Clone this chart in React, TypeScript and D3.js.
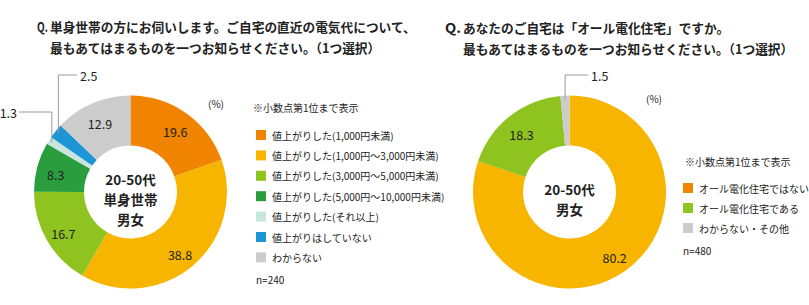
import React from "react";
import * as d3 from "d3";

// ---------- data ----------
const leftTitle = [
  "単身世帯の方にお伺いします。ご自宅の直近の電気代について、",
  "最もあてはまるものを一つお知らせください。（1つ選択）",
];
const leftCenter = ["20-50代", "単身世帯", "男女"];
const leftCategories = [
  "値上がりした(1,000円未満)",
  "値上がりした(1,000円～3,000円未満)",
  "値上がりした(3,000円～5,000円未満)",
  "値上がりした(5,000円～10,000円未満)",
  "値上がりした(それ以上)",
  "値上がりはしていない",
  "わからない",
];
const leftValues = [19.6, 38.8, 16.7, 8.3, 1.3, 2.5, 12.9];
const leftColors = ["#F08300", "#F7B500", "#8FC31F", "#2A9E3E", "#C8E6DF", "#1E96D5", "#CCCCCC"];
const leftN = "n=240";

const rightTitle = [
  "あなたのご自宅は「オール電化住宅」ですか。",
  "最もあてはまるものを一つお知らせください。（1つ選択）",
];
const rightCenter = ["20-50代", "男女"];
const rightCategories = ["オール電化住宅ではない", "オール電化住宅である", "わからない・その他"];
const rightValues = [80.2, 18.3, 1.5];
const rightSliceColors = ["#F7B500", "#8FC31F", "#CCCCCC"];
const rightLegendColors = ["#F08300", "#8FC31F", "#CCCCCC"];
const rightN = "n=480";

const note = "※小数点第1位まで表示";
const unit = "(%)";

const FONT = "'Noto Sans CJK JP', 'Noto Sans', sans-serif";

type Callout = { index: number; lx: number; ly: number; side: "left" | "right" };

function Donut(props: {
  cx: number;
  cy: number;
  values: number[];
  colors: string[];
  center: string[];
  callouts: Callout[];
}) {
  const { cx, cy, values, colors, center, callouts } = props;
  const rOuter = 96.5;
  const rInner = 46.5;
  const pie = d3.pie<number>().sort(null).value((d) => d);
  const arcs = pie(values);
  const arc = d3.arc<d3.PieArcDatum<number>>().innerRadius(rInner).outerRadius(rOuter);
  const labelArc = d3.arc<d3.PieArcDatum<number>>().innerRadius(rInner + 6).outerRadius(rOuter + 6);
  const calloutIdx = new Set(callouts.map((c) => c.index));
  return (
    <g>
      <g transform={`translate(${cx},${cy})`}>
        {arcs.map((a, i) => (
          <path key={i} d={arc(a) || ""} fill={colors[i]} />
        ))}
        {arcs.map((a, i) => {
          if (calloutIdx.has(i)) return null;
          const [x, y] = labelArc.centroid(a);
          return (
            <text
              key={"l" + i}
              x={x}
              y={y + 3}
              textAnchor="middle"
              dominantBaseline="central"
              fontSize={12.5}
              fill="#222"
              fontFamily={FONT}
            >
              {values[i].toFixed(1)}
            </text>
          );
        })}
        {center.map((t, i) => (
          <text
            key={"c" + i}
            x={0}
            y={7 + (i - (center.length - 1) / 2) * 20}
            textAnchor="middle"
            dominantBaseline="central"
            fontSize={13.5}
            fontWeight="bold"
            fill="#222"
            fontFamily={FONT}
          >
            {t}
          </text>
        ))}
      </g>
      {callouts.map((c, k) => {
        const a = arcs[c.index];
        const mid = (a.startAngle + a.endAngle) / 2;
        const r = 93;
        const px = cx + r * Math.sin(mid);
        const py = cy - r * Math.cos(mid);
        const lineEnd = c.side === "left" ? c.lx + 2 : c.lx - 3;
        return (
          <g key={"co" + k}>
            <polyline
              points={`${px},${py} ${px},${c.ly} ${lineEnd},${c.ly}`}
              fill="none"
              stroke="#9a9a9a"
              strokeWidth={1}
            />
            <text
              x={c.lx}
              y={c.ly}
              textAnchor={c.side === "left" ? "end" : "start"}
              dominantBaseline="central"
              fontSize={12.5}
              fill="#222"
              fontFamily={FONT}
            >
              {values[c.index].toFixed(1)}
            </text>
          </g>
        );
      })}
    </g>
  );
}

function Legend(props: { x: number; y: number; step: number; labels: string[]; colors: string[]; n: string }) {
  const { x, y, step, labels, colors, n } = props;
  return (
    <g fontFamily={FONT} fontSize={10} fill="#222">
      {labels.map((l, i) => (
        <g key={i}>
          <rect x={x} y={y + i * step - 5} width={10} height={10} fill={colors[i]} />
          <text x={x + 16} y={y + i * step} dominantBaseline="central">
            {l}
          </text>
        </g>
      ))}
      <text x={x} y={y + labels.length * step + 2} dominantBaseline="central">
        {n}
      </text>
    </g>
  );
}

function Title(props: { qx: number; tx: number; y: number; lines: string[] }) {
  const { qx, tx, y, lines } = props;
  return (
    <g fontFamily={FONT} fontSize={12.7} fontWeight="bold" fill="#222">
      <text x={qx} y={y} dominantBaseline="central" textLength={tx - qx - 2} lengthAdjust="spacingAndGlyphs">
        Q.
      </text>
      {lines.map((l, i) => (
        <text key={i} x={tx} y={y + i * 21} dominantBaseline="central">
          {l}
        </text>
      ))}
    </g>
  );
}

export default function App() {
  return (
    <svg
      width={809}
      height={305}
      style={{ position: "absolute", left: 0, top: 0, background: "#fff" }}
    >
      <rect width={809} height={305} fill="#fff" />
      <Title qx={37} tx={50} y={26} lines={leftTitle} />
      <Title qx={445} tx={463} y={27} lines={rightTitle} />

      <Donut
        cx={130.5}
        cy={192}
        values={leftValues}
        colors={leftColors}
        center={leftCenter}
        callouts={[
          { index: 4, lx: 17, ly: 112, side: "left" },
          { index: 5, lx: 80, ly: 75, side: "right" },
        ]}
      />
      <Donut
        cx={569.5}
        cy={192}
        values={rightValues}
        colors={rightSliceColors}
        center={rightCenter}
        callouts={[{ index: 2, lx: 591, ly: 75, side: "right" }]}
      />

      <g fontFamily={FONT} fontSize={10} fill="#222">
        <text x={208} y={103} dominantBaseline="central">{unit}</text>
        <text x={253} y={107} dominantBaseline="central">{note}</text>
        <text x={646} y={98} dominantBaseline="central">{unit}</text>
        <text x={685} y={161} dominantBaseline="central">{note}</text>
      </g>

      <Legend x={256} y={135} step={20.4} labels={leftCategories} colors={leftColors} n={leftN} />
      <Legend x={683} y={188} step={20} labels={rightCategories} colors={rightLegendColors} n={rightN} />
    </svg>
  );
}
